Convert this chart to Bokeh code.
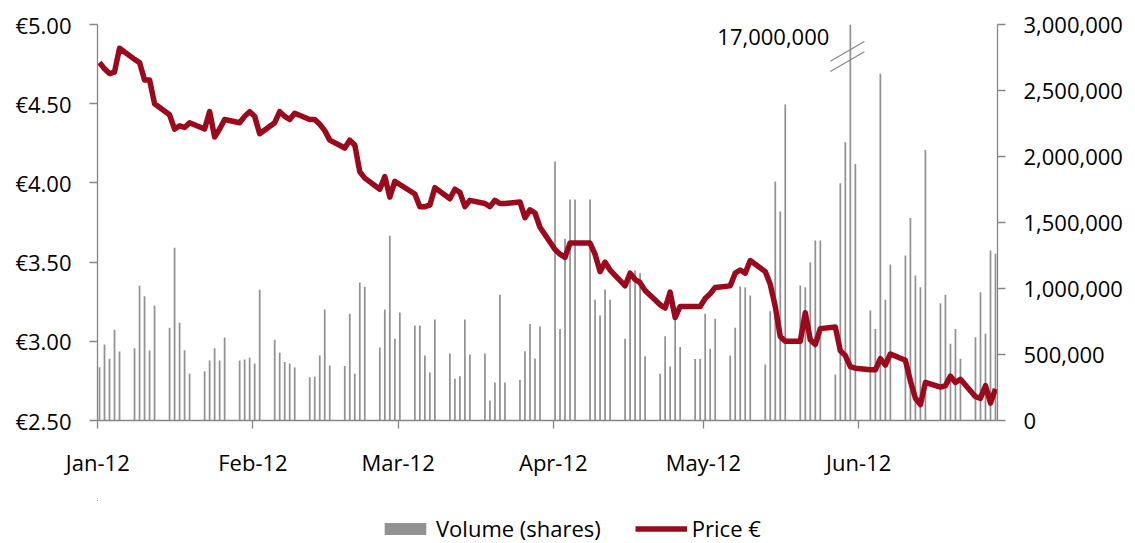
import pandas as pd
from bokeh.plotting import figure
from bokeh.layouts import column
from bokeh.models import (ColumnDataSource, Range1d, LinearAxis, FixedTicker, SingleIntervalTicker,
                          PrintfTickFormatter, NumeralTickFormatter,
                          Legend, LegendItem, Label)
from bokeh.embed import file_html
from bokeh.resources import INLINE

# ---------------- data (trading days, Jan-Jun 2012) ----------------
MONTHS = ["2012-01", "2012-02", "2012-03", "2012-04", "2012-05", "2012-06"]
TICK_LABELS = ["Jan-12", "Feb-12", "Mar-12", "Apr-12", "May-12", "Jun-12"]

vol_jan = [404, 576, 467, 687, 523, 548, 1020, 942, 530, 871, 702, 1308, 740, 533, 354,
           374, 455, 548, 455, 629, 455, 462]
vol_feb = [475, 432, 990, 611, 513, 444, 432, 401, 328, 331, 492, 841, 417, 412, 808,
           354, 1045, 1013, 553, 841, 1399]
vol_mar = [619, 818, 720, 720, 492, 364, 765, 508, 316, 336, 765, 500, 508, 152, 288,
           952, 288, 308, 525, 732, 470, 712]
vol_apr = [1962, 694, 1376, 1674, 1674, 1674, 914, 795, 992, 914, 619, 1136, 1136, 1116,
           487, 354, 639, 409, 795, 556, 465]
vol_may = [465, 808, 543, 770, 492, 702, 1015, 1010, 947, 424, 828, 1810, 1583, 2394,
           1023, 1010, 1197, 1364, 1364, 348, 1798, 2108, 17000]
vol_jun = [1944, 833, 694, 2626, 914, 1182, 1250, 1535, 1098, 1010, 2050, 889, 952, 581,
           694, 467, 631, 972, 657, 1288, 1263]

px_jan = [4.76, 4.72, 4.69, 4.70, 4.85, 4.78, 4.76, 4.65, 4.65, 4.50, 4.43, 4.34, 4.36,
          4.35, 4.38, 4.34, 4.45, 4.29, 4.34, 4.40, 4.38, 4.42]
px_feb = [4.45, 4.42, 4.31, 4.38, 4.45, 4.42, 4.40, 4.44, 4.40, 4.40, 4.37, 4.33, 4.27,
          4.22, 4.27, 4.24, 4.07, 4.03, 3.96, 4.04, 3.91]
px_mar = [4.01, 3.99, 3.93, 3.85, 3.85, 3.86, 3.97, 3.90, 3.96, 3.94, 3.85, 3.89, 3.87,
          3.85, 3.89, 3.87, 3.87, 3.88, 3.78, 3.83, 3.81, 3.72]
px_apr = [3.58, 3.55, 3.53, 3.62, 3.62, 3.62, 3.55, 3.44, 3.50, 3.45, 3.35, 3.43, 3.39,
          3.37, 3.32, 3.23, 3.21, 3.31, 3.15, 3.22, 3.22]
px_may = [3.22, 3.27, 3.30, 3.34, 3.35, 3.43, 3.45, 3.43, 3.51, 3.44, 3.36, 3.22, 3.03,
          3.00, 3.00, 3.18, 3.01, 2.98, 3.08, 3.09, 2.94, 2.91, 2.84]
px_jun = [2.83, 2.82, 2.82, 2.89, 2.85, 2.92, 2.88, 2.75, 2.64, 2.60, 2.74, 2.71, 2.72,
          2.78, 2.74, 2.76, 2.65, 2.64, 2.72, 2.61, 2.70]

BREAK_LABEL = "17,000,000"
SERIES_LABELS = ["Volume (shares)", "Price €"]

# ---------------- build ----------------
dates = pd.bdate_range("2012-01-02", "2012-06-29")
volume = [v * 1000 for v in vol_jan + vol_feb + vol_mar + vol_apr + vol_may + vol_jun]
price = px_jan + px_feb + px_mar + px_apr + px_may + px_jun
assert len(dates) == len(volume) == len(price)

src = ColumnDataSource(dict(date=dates, volume=volume, price=price))

DAY = 86400000.0
FONT = "Open Sans"
GREY_AX = "#868686"
BAR_C = "#929292"
LINE_C = "#9a0a1c"

x_start = pd.Timestamp("2012-01-02").value / 1e6 - 0.4 * DAY
x_end = x_start + 179.8 * DAY

p = figure(width=1135, height=500, x_axis_type="datetime", output_backend="svg",
           toolbar_location=None, x_range=Range1d(x_start, x_end), y_range=Range1d(2.5, 5.0),
           min_border_left=97, min_border_right=138, min_border_top=24, min_border_bottom=80)
p.extra_y_ranges = {"vol": Range1d(0, 3000000)}
p.outline_line_color = None
p.xgrid.visible = False
p.ygrid.visible = False
p.background_fill_color = "white"
p.border_fill_color = "white"

bars = p.vbar(x="date", top="volume", width=0.35 * DAY, source=src, y_range_name="vol",
              fill_color=BAR_C, line_color=None)
line = p.line(x="date", y="price", source=src, line_color=LINE_C, line_width=5.5,
              line_join="round")

# axis break marks on the clipped bar + label
big_i = volume.index(max(volume))
big_x = dates[big_i].value / 1e6
p.segment(x0=[big_x - 4.0 * DAY, big_x - 4.0 * DAY], y0=[2722000, 2644000],
          x1=[big_x + 2.8 * DAY, big_x + 2.8 * DAY], y1=[2871000, 2793000],
          y_range_name="vol", line_color=GREY_AX, line_width=1.2)
p.add_layout(Label(x=big_x, y=3000000, y_range_name="vol", text=BREAK_LABEL,
                   x_offset=-21, y_offset=-12, text_align="right", text_baseline="middle",
                   text_font=FONT, text_font_size="22px", text_color="#000000"))

def style(ax, standoff):
    ax.axis_line_color = GREY_AX
    ax.axis_line_width = 1.3
    ax.major_tick_line_color = GREY_AX
    ax.major_tick_line_width = 1.3
    ax.major_tick_out = 8
    ax.major_tick_in = 0
    ax.minor_tick_line_color = None
    ax.major_label_text_font = FONT
    ax.major_label_text_font_size = "22px"
    ax.major_label_text_color = "#000000"
    ax.major_label_standoff = standoff

# x axis: month ticks
tick_pos = [pd.Timestamp(m + "-01").value / 1e6 + 0.66 * DAY for m in MONTHS]
xa = p.xaxis[0]
xa.ticker = FixedTicker(ticks=tick_pos)
xa.major_label_overrides = {t: lab for t, lab in zip(tick_pos, TICK_LABELS)}
style(xa, 18)

ya = p.yaxis[0]
ya.ticker = SingleIntervalTicker(interval=0.5)
ya.formatter = PrintfTickFormatter(format="€%.2f")
style(ya, 18)

ra = LinearAxis(y_range_name="vol", ticker=SingleIntervalTicker(interval=500000),
                formatter=NumeralTickFormatter(format="0,0"))
style(ra, 18)
p.add_layout(ra, "right")

# ---------------- legend strip below the chart ----------------
# same data & styles; the strip's ranges lie beyond all values, so only the legend shows
leg = figure(width=1135, height=43, output_backend="svg", toolbar_location=None,
             x_range=Range1d(x_end + 10 * DAY, x_end + 20 * DAY), y_range=Range1d(-20, -19),
             x_axis_location=None, y_axis_location=None,
             min_border_left=0, min_border_right=0, min_border_top=0, min_border_bottom=0)
leg.outline_line_color = None
leg.xgrid.visible = False
leg.ygrid.visible = False
leg.border_fill_color = "white"
leg.background_fill_color = "white"
leg_bar = leg.vbar(x="date", top="volume", width=0.35 * DAY, source=src,
                   fill_color=BAR_C, line_color=None)
leg_line = leg.line(x="date", y="price", source=src, line_color=LINE_C, line_width=5.5)

legend = Legend(items=[LegendItem(label=SERIES_LABELS[0], renderers=[leg_bar]),
                       LegendItem(label=SERIES_LABELS[1], renderers=[leg_line])],
                location=(282, 0), orientation="horizontal", border_line_color=None,
                background_fill_alpha=0, padding=0, margin=0, spacing=34, label_standoff=5,
                glyph_width=52, glyph_height=15, label_text_font=FONT,
                label_text_font_size="22px", label_text_color="#000000")
leg.add_layout(legend)

layout = column(p, leg, spacing=0)
open("out.html", "w").write(file_html(layout, INLINE))
